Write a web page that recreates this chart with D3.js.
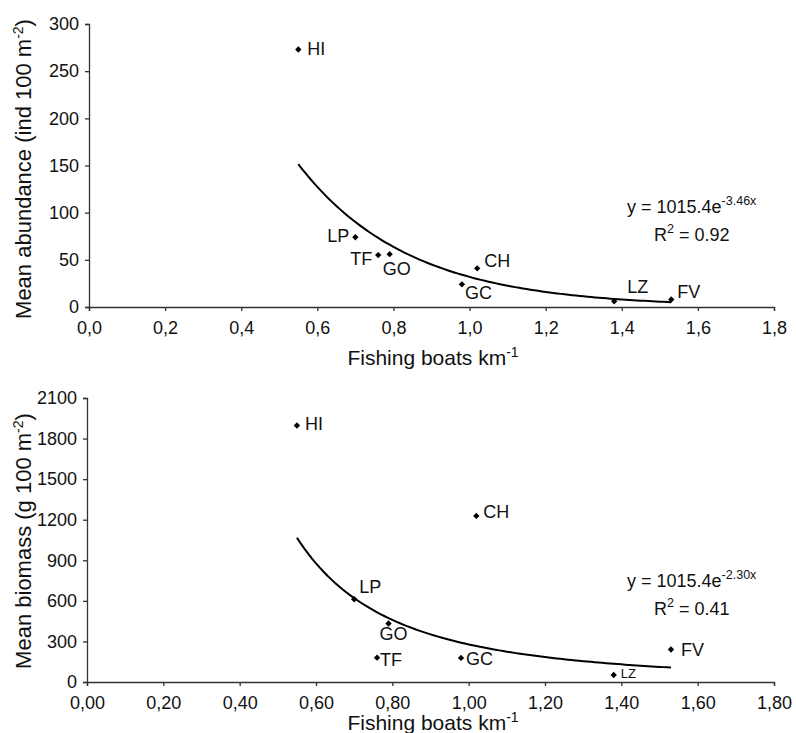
<!DOCTYPE html>
<html>
<head>
<meta charset="utf-8">
<script src="https://cdn.jsdelivr.net/npm/d3@7"></script>
<style>
  html, body { margin: 0; padding: 0; background: #fff; }
  svg { display: block; }
  text { font-family: "Liberation Sans", Arial, Helvetica, sans-serif; fill: #111; }
</style>
</head>
<body>
<svg id="chart" width="796" height="733"></svg>
<script>
// Sites and fishing pressure
const sites = ["HI", "LP", "TF", "GO", "CH", "GC", "LZ", "FV"];
const boatsPerKm = [0.55, 0.70, 0.76, 0.79, 1.02, 0.98, 1.38, 1.53];

// Fish assemblage metrics per site
const abundance = [273, 74, 55, 56, 41, 24, 6, 8];         // ind 100 m-2
const biomass = [1897, 612, 180, 433, 1228, 178, 52, 240];  // g 100 m-2

// Axis ticks
const xTicks = [0, 0.2, 0.4, 0.6, 0.8, 1.0, 1.2, 1.4, 1.6, 1.8];
const abundanceTicks = [0, 50, 100, 150, 200, 250, 300];
const biomassTicks = [0, 300, 600, 900, 1200, 1500, 1800, 2100];

// Fitted trend lines: [coefficient, exponent], drawn over the observed x range
const abundanceFit = [1015.4, -3.46];   // y = a * e^(b x)
const biomassFit = [278, -2.25];        // y = a * x^b
const fitRange = [0.55, 1.53];

const svg = d3.select("#chart");
const fmt1 = d => d3.format(".1f")(d).replace(".", ",");
const fmt2 = d => d3.format(".2f")(d).replace(".", ",");

function panel(opts) {
  const x = d3.scaleLinear().domain([0, 1.8]).range([opts.x0, 774]);
  const y = d3.scaleLinear().domain([0, opts.yMax]).range([opts.yBottom, opts.yTop]);
  const g = svg.append("g");

  // y axis
  const ya = g.append("g")
    .attr("transform", `translate(${opts.x0},0)`)
    .call(d3.axisLeft(y).tickValues(opts.yTicks).tickSize(4).tickPadding(6).tickFormat(d3.format("d")));
  ya.select(".domain").attr("stroke", "#333").attr("stroke-width", 1.3);
  ya.selectAll(".tick line").attr("stroke", "#333").attr("stroke-width", 1.3);
  ya.selectAll(".tick text").attr("font-size", 18).attr("font-family", "Liberation Sans, Arial, sans-serif").attr("fill", "#111");

  // x axis
  const xa = g.append("g")
    .attr("transform", `translate(0,${opts.yBottom})`)
    .call(d3.axisBottom(x).tickValues(xTicks).tickSize(4).tickPadding(10).tickFormat(opts.xFormat));
  xa.select(".domain").attr("stroke", "#333").attr("stroke-width", 1.3);
  xa.selectAll(".tick line").attr("stroke", "#333").attr("stroke-width", 1.3);
  xa.selectAll(".tick text").attr("font-size", 18).attr("font-family", "Liberation Sans, Arial, sans-serif").attr("fill", "#111");

  // x axis title
  const xt = g.append("text")
    .attr("x", 433).attr("y", opts.xTitleY)
    .attr("text-anchor", "middle").attr("font-size", 21);
  xt.append("tspan").text("Fishing boats km");
  xt.append("tspan").attr("font-size", 14).attr("dy", -8).text("-1");

  // y axis title
  const yt = g.append("text")
    .attr("transform", `translate(${opts.yTitleX},${opts.yTitleMid}) rotate(-90)`)
    .attr("text-anchor", "middle").attr("font-size", 22);
  yt.append("tspan").text(opts.yTitle);
  yt.append("tspan").attr("font-size", 14).attr("dy", -8).text("-2");
  yt.append("tspan").attr("dy", 8).text(")");

  // trend curve
  const xs = d3.range(fitRange[0], fitRange[1] + 1e-9, 0.01);
  g.append("path")
    .datum(xs)
    .attr("fill", "none").attr("stroke", "#000").attr("stroke-width", 2)
    .attr("d", d3.line().x(d => x(d)).y(d => y(opts.fit(d))));

  // points
  const pts = sites.map((s, i) => ({ site: s, x: boatsPerKm[i], y: opts.values[i] }));
  g.selectAll("path.pt").data(pts).join("path")
    .attr("class", "pt")
    .attr("d", d3.symbol(d3.symbolDiamond2, 26))
    .attr("transform", d => `translate(${x(d.x)},${y(d.y)})`)
    .attr("fill", "#000");

  // point labels
  g.selectAll("text.lbl").data(pts).join("text")
    .attr("class", "lbl")
    .attr("x", d => x(d.x) + opts.place[d.site][0])
    .attr("y", d => y(d.y) + opts.place[d.site][1])
    .attr("text-anchor", d => opts.place[d.site][2] || "start")
    .attr("font-size", d => opts.place[d.site][3] || 18)
    .text(d => d.site);

  // equation and R²
  const eq = g.append("text").attr("x", opts.eqX).attr("y", opts.eqY).attr("font-size", 18);
  eq.append("tspan").text(opts.eqMain);
  eq.append("tspan").attr("font-size", 12.5).attr("dy", -8).text(opts.eqExp);
  const r2 = g.append("text").attr("x", opts.eqX + 27).attr("y", opts.eqY + 28).attr("font-size", 18);
  r2.append("tspan").text("R");
  r2.append("tspan").attr("font-size", 12.5).attr("dy", -8).text("2");
  r2.append("tspan").attr("dy", 8).text(" = " + opts.r2);
}

panel({
  x0: 89, yTop: 24, yBottom: 307, yMax: 300,
  yTicks: abundanceTicks, values: abundance,
  xFormat: fmt1,
  xTitleY: 365, yTitleX: 31, yTitleMid: 169,
  yTitle: "Mean abundance (ind 100 m",
  fit: v => abundanceFit[0] * Math.exp(abundanceFit[1] * v),
  eqMain: "y = 1015.4e", eqExp: "-3.46x", r2: "0.92",
  eqX: 627, eqY: 213,
  place: {
    HI: [9, 6], LP: [-6, 5, "end"], TF: [-6, 10, "end"], GO: [-7, 21],
    CH: [7, -1], GC: [3, 15], LZ: [13, -8], FV: [6, -1]
  }
});

panel({
  x0: 87, yTop: 398, yBottom: 682, yMax: 2100,
  yTicks: biomassTicks, values: biomass,
  xFormat: fmt2,
  xTitleY: 730, yTitleX: 31, yTitleMid: 541,
  yTitle: "Mean biomass (g 100 m",
  fit: v => biomassFit[0] * Math.pow(v, biomassFit[1]),
  eqMain: "y = 1015.4e", eqExp: "-2.30x", r2: "0.41",
  eqX: 627, eqY: 587,
  place: {
    HI: [8, 5], LP: [5, -6], TF: [3, 8], GO: [-9, 17],
    CH: [7, 2], GC: [5, 7], LZ: [7, 3, "start", 13], FV: [10, 6]
  }
});
</script>
</body>
</html>
